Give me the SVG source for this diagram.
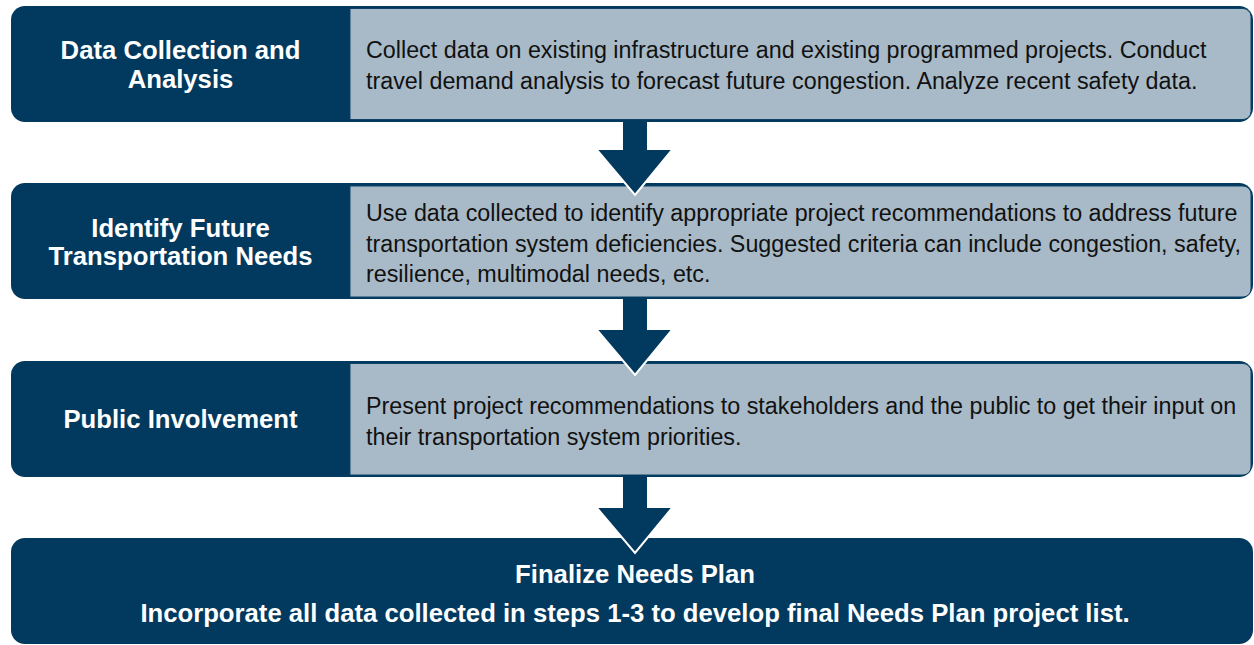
<svg xmlns="http://www.w3.org/2000/svg" width="1254" height="645" viewBox="0 0 1254 645">
<style>
.dark{fill:#023a5f}
.light{fill:#a8bac8;stroke:#0d4366;stroke-width:1}
.head{font-family:"Liberation Sans",Arial,sans-serif;font-weight:bold;font-size:25.7px;fill:#fff;text-anchor:middle}
.body{font-family:"Liberation Sans",Arial,sans-serif;font-size:23.3px;fill:#111}
.arrow{fill:#023a5f}
.edge{fill:none;stroke:#fff;stroke-width:2}
</style>
<rect width="1254" height="645" fill="#fff"/>
<g id="step1">
<rect class="dark" x="11" y="6" width="1242" height="116" rx="14"/>
<path class="light" d="M350,8.5 H1243 a8,8 0 0 1 8,8 V111.5 a8,8 0 0 1 -8,8 H350 Z"/>
<text class="head" x="180.5" y="59">Data Collection and</text>
<text class="head" x="180.5" y="88">Analysis</text>
<text class="body" x="366" y="57.5">Collect data on existing infrastructure and existing programmed projects. Conduct</text>
<text class="body" x="366" y="88.5">travel demand analysis to forecast future congestion. Analyze recent safety data.</text>
</g>
<g id="step2">
<rect class="dark" x="11" y="183" width="1242" height="116" rx="14"/>
<path class="light" d="M350,186 H1243 a8,8 0 0 1 8,8 V289 a8,8 0 0 1 -8,8 H350 Z"/>
<text class="head" x="180.5" y="237">Identify Future</text>
<text class="head" x="180.5" y="265">Transportation Needs</text>
<text class="body" x="366" y="220.5">Use data collected to identify appropriate project recommendations to address future</text>
<text class="body" x="366" y="251.5">transportation system deficiencies. Suggested criteria can include congestion, safety,</text>
<text class="body" x="366" y="281.5">resilience, multimodal needs, etc.</text>
</g>
<g id="step3">
<rect class="dark" x="11" y="361" width="1242" height="116" rx="14"/>
<path class="light" d="M350,363.5 H1243 a8,8 0 0 1 8,8 V467 a8,8 0 0 1 -8,8 H350 Z"/>
<text class="head" x="180.5" y="428">Public Involvement</text>
<text class="body" x="366" y="413.5">Present project recommendations to stakeholders and the public to get their input on</text>
<text class="body" x="366" y="444.5">their transportation system priorities.</text>
</g>
<g id="step4">
<rect class="dark" x="11" y="538" width="1242" height="106" rx="14"/>
<text class="head" x="635" y="583">Finalize Needs Plan</text>
<text class="head" x="635" y="622">Incorporate all data collected in steps 1-3 to develop final Needs Plan project list.</text>
</g>
<g id="connectors">
<path class="arrow" d="M623,120 H647 V150 H672 L635,195 L597,150 H623 Z"/>
<path class="edge" d="M597,150 L635,195 L672,150"/>
<path class="arrow" d="M623,297 H647 V330 H672 L635,375 L597,330 H623 Z"/>
<path class="edge" d="M597,330 L635,375 L672,330"/>
<path class="arrow" d="M623,475 H647 V508 H672 L635,553 L597,508 H623 Z"/>
<path class="edge" d="M597,508 L635,553 L672,508"/>
</g>
</svg>
